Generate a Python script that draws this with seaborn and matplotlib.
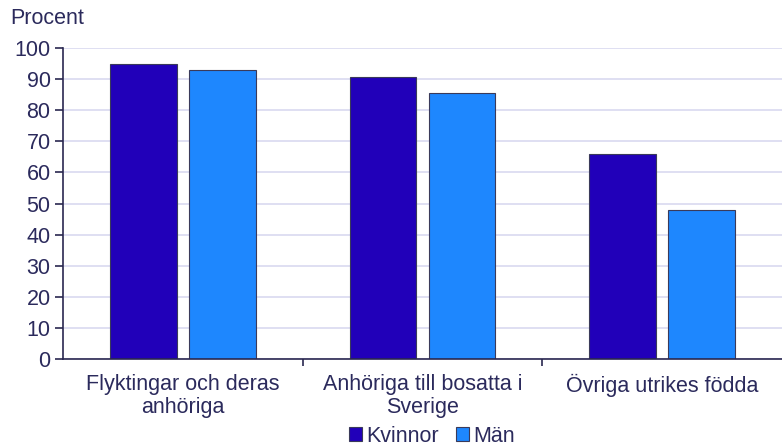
import matplotlib
matplotlib.use("Agg")
import matplotlib.pyplot as plt
import seaborn as sns
import pandas as pd

# data
grupper = ['Flyktingar och deras\nanhöriga', 'Anhöriga till bosatta i\nSverige', 'Övriga utrikes födda']
kvinnor = [95, 90.7, 66]
man = [93, 85.4, 48]
kon = ['Kvinnor', 'Män']

df = pd.DataFrame({
    'Grupp': grupper * 2,
    'Kön': [kon[0]] * 3 + [kon[1]] * 3,
    'Procent': kvinnor + man,
})

sns.set_style('white')
plt.rcParams['font.family'] = ['Liberation Sans', 'DejaVu Sans']

text_farg = '#2b2a5c'
axel_farg = '#2a2850'
palett = {'Kvinnor': '#2100b9', 'Män': '#1e87fe'}
fs = 15.5

fig = plt.figure(figsize=(7.82, 4.47), dpi=100)
ax = fig.add_axes([63 / 782, 1 - 359 / 447, 1 - 63 / 782, (359 - 48) / 447])

sns.barplot(data=df, x='Grupp', y='Procent', hue='Kön', palette=palett, saturation=1,
            width=0.66, gap=0.16, edgecolor='#3a3a5a', linewidth=0.8, ax=ax, legend=True)

ax.set_ylim(0, 100)
ax.set_xlim(-0.5, 2.5)
ax.set_yticks(range(0, 101, 10))
ax.yaxis.grid(True, color='#d9d9f0', linewidth=1.2)
ax.set_axisbelow(True)

for s in ['top', 'right']:
    ax.spines[s].set_visible(False)
for s in ['left', 'bottom']:
    ax.spines[s].set_color(axel_farg)
    ax.spines[s].set_linewidth(1.2)

ax.tick_params(axis='y', left=True, length=6, width=1.2, color=axel_farg, direction='out',
               labelsize=fs, labelcolor=text_farg, pad=3)
ax.tick_params(axis='x', which='major', length=0, labelsize=fs, labelcolor=text_farg, pad=11)
ax.set_xticks([0.5, 1.5], minor=True)
ax.tick_params(axis='x', which='minor', bottom=True, length=5, width=1.2, color=axel_farg,
               direction='out')
for lab in ax.get_xticklabels():
    lab.set_linespacing(1.1)

ax.set_xlabel('')
ax.set_ylabel('')
fig.text(10 / 782, 1 - 19 / 447, 'Procent', fontsize=fs, color=text_farg, va='center', ha='left')

ax.legend(title=None, loc='center', bbox_to_anchor=((432 - 63) / 719, (359 - 436) / 311),
          ncol=2, frameon=False, fontsize=fs, handlelength=0.6, handleheight=0.6,
          handletextpad=0.2, columnspacing=0.8, labelcolor=text_farg)

fig.savefig('out.png', dpi=100)
